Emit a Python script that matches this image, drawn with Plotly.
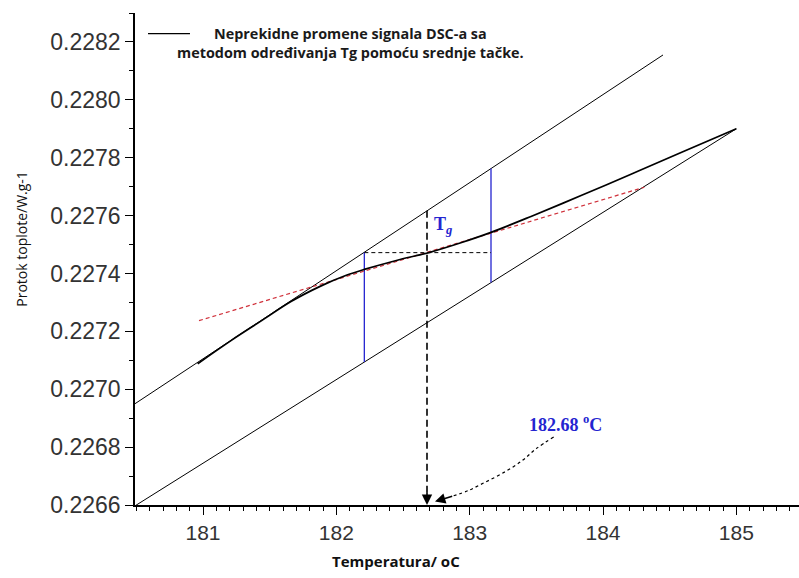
import numpy as np
import plotly.graph_objects as go

# ---- data ----
curve_x = [180.96, 181.21, 181.44, 181.66, 181.89, 182.07, 182.21, 182.45, 182.70,
           182.94, 183.16, 183.46, 183.84, 184.21, 184.59, 185.00]
curve_y = [0.227088, 0.227168, 0.227237, 0.227303, 0.227358, 0.227393, 0.227414, 0.227445,
           0.227473, 0.227507, 0.227542, 0.227597, 0.227670, 0.227743, 0.227819, 0.227900]

upper_x = [180.49, 184.45]
upper_y = [0.226950, 0.228155]
lower_x = [180.49, 185.00]
lower_y = [0.226597, 0.227900]

mid_tangent_x = [180.97, 184.31]
mid_tangent_y = [0.227237, 0.227698]

blue_x = [182.21, 183.16]
tg_level = 0.227472
tg_value = 182.68

pointer_x = [183.63, 183.50, 183.39, 183.24, 183.10, 182.99, 182.88]
pointer_y = [0.226835, 0.226795, 0.226752, 0.226708, 0.226675, 0.226650, 0.226632]

x_ticks = [181, 182, 183, 184, 185]
y_ticks = [0.2266, 0.2268, 0.2270, 0.2272, 0.2274, 0.2276, 0.2278, 0.2280, 0.2282]

legend_lines = ["Neprekidne promene signala DSC-a sa",
                "metodom određivanja Tg pomoću srednje tačke."]
x_title = "Temperatura/ oC"
y_title = "Protok toplote/W.g-1"

X_RANGE = [180.49, 185.47]
Y_RANGE = [0.2266, 0.22830]

BLUE = "#2424d0"


def line_at(xs, ys, x):
    return ys[0] + (ys[1] - ys[0]) / (xs[1] - xs[0]) * (x - xs[0])


fig = go.Figure()

# tangent lines
fig.add_trace(go.Scatter(x=upper_x, y=upper_y, mode="lines",
                         line=dict(color="black", width=1), showlegend=False, hoverinfo="skip"))
fig.add_trace(go.Scatter(x=lower_x, y=lower_y, mode="lines",
                         line=dict(color="black", width=1), showlegend=False, hoverinfo="skip"))

# blue verticals
for bx in blue_x:
    fig.add_trace(go.Scatter(x=[bx, bx], y=[line_at(lower_x, lower_y, bx), line_at(upper_x, upper_y, bx)],
                             mode="lines", line=dict(color=BLUE, width=1.3),
                             showlegend=False, hoverinfo="skip"))

# horizontal dashed
fig.add_trace(go.Scatter(x=blue_x, y=[tg_level, tg_level], mode="lines",
                         line=dict(color="black", width=1, dash="4px,3px"),
                         showlegend=False, hoverinfo="skip"))

# vertical dashed to axis
fig.add_trace(go.Scatter(x=[tg_value, tg_value],
                         y=[line_at(upper_x, upper_y, tg_value), Y_RANGE[0] + 0.00003],
                         mode="lines", line=dict(color="black", width=1.6, dash="7px,4px"),
                         showlegend=False, hoverinfo="skip"))

# red dashed midpoint tangent
fig.add_trace(go.Scatter(x=mid_tangent_x, y=mid_tangent_y, mode="lines",
                         line=dict(color="#d0303a", width=1.2, dash="4px,3px"),
                         showlegend=False, hoverinfo="skip"))

# DSC curve
fig.add_trace(go.Scatter(x=curve_x, y=curve_y, mode="lines", line_shape="spline",
                         line=dict(color="black", width=1.7), showlegend=False, hoverinfo="skip"))

# dotted pointer
fig.add_trace(go.Scatter(x=pointer_x, y=pointer_y, mode="lines", line_shape="spline",
                         line=dict(color="black", width=1.2, dash="dot"),
                         showlegend=False, hoverinfo="skip"))

# arrowheads
fig.add_annotation(x=tg_value, y=Y_RANGE[0], ax=0, ay=-14, xref="x", yref="y",
                   showarrow=True, arrowhead=2, arrowsize=1.3, arrowwidth=1.6,
                   arrowcolor="black", text="")
fig.add_annotation(x=tg_value + 0.06, y=Y_RANGE[0] + 0.000012,
                   ax=pointer_x[-1], ay=pointer_y[-1], axref="x", ayref="y",
                   xref="x", yref="y", showarrow=True, arrowhead=2, arrowsize=1.3,
                   arrowwidth=1.6, arrowcolor="black", text="")

# texts
fig.add_annotation(x=tg_value + 0.04, y=0.227565, xref="x", yref="y", xanchor="left",
                   text="<b>T</b><b><i><sub>g</sub></i></b>", showarrow=False,
                   font=dict(family="Liberation Serif", size=18, color=BLUE))
fig.add_annotation(x=183.72, y=0.22688, xref="x", yref="y",
                   text="<b>182.68 <sup>o</sup>C</b>", showarrow=False,
                   font=dict(family="Liberation Serif", size=18, color=BLUE))

# legend (sample line + text)
fig.add_shape(type="line", xref="paper", yref="paper", x0=0.0196, x1=0.0828,
              y0=0.958, y1=0.958, line=dict(color="black", width=1.2))
fig.add_annotation(x=0.3253, y=0.939, xref="paper", yref="paper",
                   xanchor="center", yanchor="middle",
                   text="<br>".join("<b>" + s + "</b>" for s in legend_lines),
                   align="center", showarrow=False,
                   font=dict(family="Open Sans", size=14.4, color="#1a1a1a"))

# axis titles
fig.add_annotation(x=182.45, y=0, xref="x", yref="paper", yanchor="middle",
                   yshift=-56, text="<b>" + x_title + "</b>", showarrow=False,
                   font=dict(family="Open Sans", size=15, color="#111111"))
fig.add_annotation(x=0, y=0.22752, xref="paper", yref="y", xanchor="center",
                   xshift=-113, text=y_title, textangle=-90, showarrow=False,
                   font=dict(family="Open Sans", size=14, color="#111111"))

axis_common = dict(showgrid=False, zeroline=False, showline=True, linecolor="black",
                   linewidth=1.5, ticks="outside", tickcolor="black", tickwidth=1.3,
                   ticklen=8)

fig.update_xaxes(range=X_RANGE, tickvals=x_ticks, ticktext=[str(t) for t in x_ticks],
                 tickfont=dict(family="Liberation Sans", size=21, color="#333333"),
                 minor=dict(ticks="outside", ticklen=4, dtick=0.1, tick0=181,
                            tickcolor="black", tickwidth=1.2),
                 **axis_common)
fig.update_yaxes(range=Y_RANGE, tickvals=y_ticks, ticktext=[f"{t:.4f}" for t in y_ticks],
                 tickfont=dict(family="Liberation Sans", size=23, color="#333333"),
                 minor=dict(ticks="outside", ticklen=4, dtick=0.0001, tick0=0.2266,
                            tickcolor="black", tickwidth=1.2),
                 **axis_common)

fig.update_layout(width=799, height=578, margin=dict(l=135, r=0, t=13, b=73),
                  paper_bgcolor="white", plot_bgcolor="white", showlegend=False)

fig.write_html("out.html")
